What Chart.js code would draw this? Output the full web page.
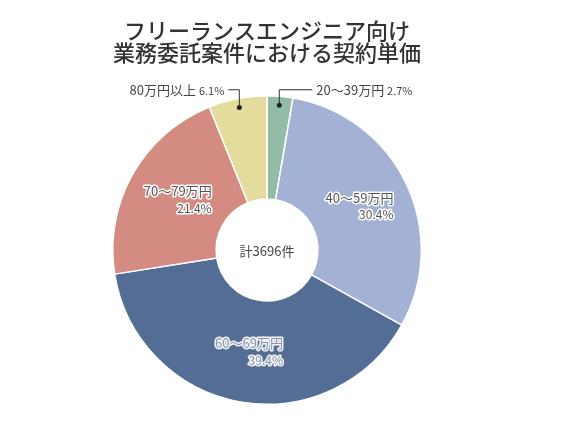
<!DOCTYPE html>
<html>
<head>
<meta charset="utf-8">
<script src="https://cdn.jsdelivr.net/npm/chart.js@4"></script>
<style>
  html, body { margin: 0; padding: 0; background: #fff; }
  #wrap { width: 586px; height: 425px; }
</style>
</head>
<body>
<div id="wrap"><canvas id="myChart"></canvas></div>
<script>
// データ（契約単価の分布）
var categories = ['20〜39万円', '40〜59万円', '60〜69万円', '70〜79万円', '80万円以上'];
var shares = [2.7, 30.4, 39.4, 21.4, 6.1];
var colors = ['#93bca6', '#a3b2d4', '#536d95', '#d48c82', '#e4dc9c'];
var titleLines = ['フリーランスエンジニア向け', '業務委託案件における契約単価'];
var totalLabel = '計3696件';
// ラベルの配置: 'in' = 扇形の中, 'left' / 'right' = 引き出し線
var labelPlace = ['right', 'in', 'in', 'in', 'left'];

var FONT = '"Noto Sans CJK JP", "Noto Sans", sans-serif';

function haloText(ctx, txt, x, y, fill, halo) {
    ctx.lineJoin = 'round';
    ctx.lineWidth = 3;
    ctx.strokeStyle = halo;
    ctx.strokeText(txt, x, y);
    ctx.fillStyle = fill;
    ctx.fillText(txt, x, y);
}

// 中央の合計とラベルを描くプラグイン
var labelPlugin = {
    id: 'sliceLabels',
    afterDatasetsDraw: function (chart) {
        var ctx = chart.ctx;
        var arcs = chart.getDatasetMeta(0).data;
        ctx.save();
        ctx.textBaseline = 'middle';

        // 中央テキスト
        var c = arcs[0].getProps(['x', 'y'], true);
        ctx.font = '13px ' + FONT;
        ctx.textAlign = 'center';
        ctx.fillStyle = '#444';
        ctx.fillText(totalLabel, c.x, c.y + 1);

        arcs.forEach(function (arc, i) {
            var p = arc.getProps(['x', 'y', 'startAngle', 'endAngle', 'innerRadius', 'outerRadius'], true);
            var mid = (p.startAngle + p.endAngle) / 2;
            var pct = shares[i].toFixed(1) + '%';
            if (labelPlace[i] === 'in') {
                var r = (p.innerRadius + p.outerRadius) / 2;
                var cx = p.x + Math.cos(mid) * r;
                var cy = p.y + Math.sin(mid) * r;
                ctx.font = '13px ' + FONT;
                var w = ctx.measureText(categories[i]).width;
                ctx.textAlign = 'right';
                var dark = i === 2;
                var fill = dark ? '#8593ab' : '#555';
                var halo = dark ? '#f4f4f4' : '#ffffff';
                haloText(ctx, categories[i], cx + w / 2, cy - 8, fill, halo);
                ctx.font = '12px ' + FONT;
                haloText(ctx, pct, cx + w / 2, cy + 9, fill, halo);
            } else {
                var rd = p.outerRadius - 9;
                var dx = p.x + Math.cos(mid) * rd;
                var dy = p.y + Math.sin(mid) * rd;
                var ly = p.y - p.outerRadius - 6;
                var right = labelPlace[i] === 'right';
                var lx = right ? dx + 33 : dx - 11;
                ctx.strokeStyle = '#333';
                ctx.lineWidth = 1;
                ctx.beginPath();
                ctx.moveTo(dx, dy);
                ctx.lineTo(dx, ly);
                ctx.lineTo(lx, ly);
                ctx.stroke();
                ctx.fillStyle = '#222';
                ctx.beginPath();
                ctx.arc(dx, dy, 2.5, 0, Math.PI * 2);
                ctx.fill();

                ctx.fillStyle = '#444';
                ctx.font = '13px ' + FONT;
                var catW = ctx.measureText(categories[i] + ' ').width;
                ctx.font = '11px ' + FONT;
                var pctW = ctx.measureText(pct).width;
                var tx = right ? lx + 4 : lx - 4 - catW - pctW;
                ctx.textAlign = 'left';
                ctx.font = '13px ' + FONT;
                ctx.fillText(categories[i], tx, ly);
                ctx.font = '11px ' + FONT;
                ctx.fillText(pct, tx + catW, ly + 1);
            }
        });
        ctx.restore();
    }
};

var ctx = document.getElementById('myChart').getContext('2d');
var myChart = new Chart(ctx, {
    type: 'doughnut',
    data: {
        labels: categories,
        datasets: [{
            data: shares,
            backgroundColor: colors,
            borderColor: '#ffffff',
            borderWidth: 1.5
        }]
    },
    options: {
        responsive: true,
        maintainAspectRatio: false,
        animation: false,
        cutout: '33%',
        layout: {
            padding: { left: 112, right: 164, top: 0, bottom: 20 }
        },
        plugins: {
            legend: { display: false },
            tooltip: { enabled: false },
            title: {
                display: true,
                text: titleLines,
                color: '#333',
                font: { family: FONT, size: 22, weight: '500', lineHeight: 1.0 },
                padding: { top: 20, bottom: 31 }
            }
        }
    },
    plugins: [labelPlugin]
});
</script>
</body>
</html>
